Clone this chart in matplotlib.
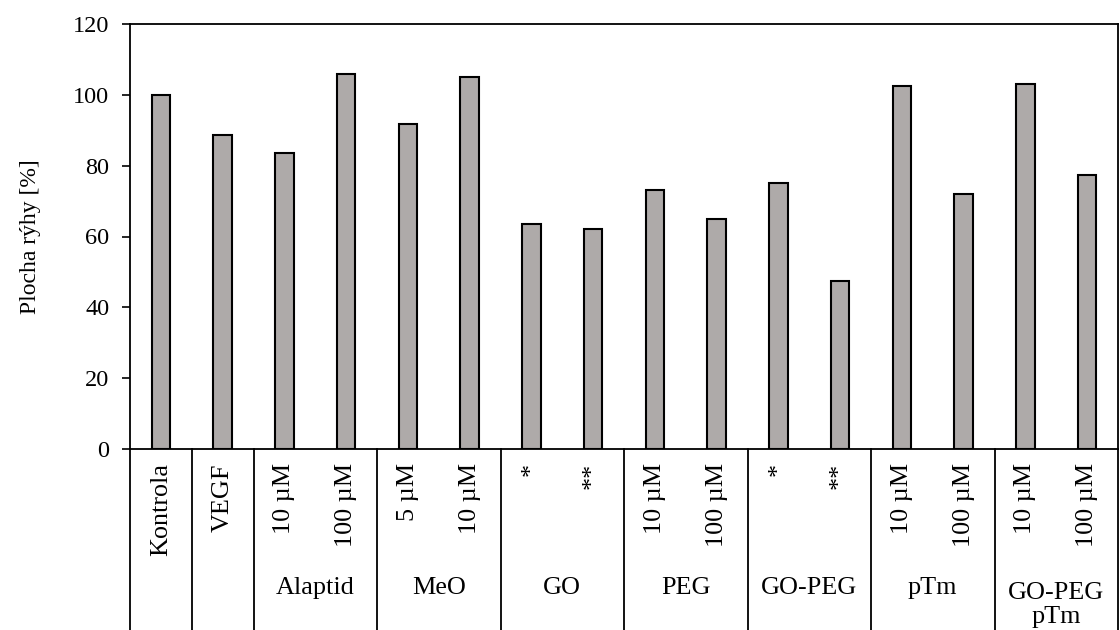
import matplotlib
matplotlib.use("Agg")
import matplotlib.pyplot as plt
import matplotlib.transforms as mtransforms

# ---- data ----
sub_labels = ["Kontrola", "VEGF", "10 µM", "100 µM", "5 µM", "10 µM", "*", "**",
              "10 µM", "100 µM", "*", "**", "10 µM", "100 µM", "10 µM", "100 µM"]
values = [100.0, 88.6, 83.5, 105.8, 91.8, 105.0, 63.5, 62.1,
          73.1, 64.9, 75.2, 47.3, 102.6, 72.1, 103.0, 77.5]
group_names = ["", "", "Alaptid", "MeO", "GO", "PEG", "GO-PEG", "pTm", "GO-PEG\npTm"]
group_sizes = [1, 1, 2, 2, 2, 2, 2, 2, 2]
y_ticks = [0, 20, 40, 60, 80, 100, 120]

plt.rcParams['font.family'] = ['Liberation Serif', 'DejaVu Serif']

fig = plt.figure(figsize=(11.2, 6.3), dpi=100)
ax = fig.add_axes([130/1120, 1-449/630, (1118-130)/1120, (449-24)/630])

n = len(values)
x = list(range(n))
ax.bar(x, values, width=0.3, color='#AEAAA9', edgecolor='black', linewidth=1.5, zorder=3)

ax.set_xlim(-0.5, n-0.5)
ax.set_ylim(0, 120)
ax.set_yticks(y_ticks)
ax.set_yticklabels([str(t) for t in y_ticks], fontsize=17.5)
ax.tick_params(axis='y', direction='out', length=6, width=1.2, pad=9)
ax.set_xticks([])
for s in ax.spines.values():
    s.set_linewidth(1.3)
ax.set_ylabel("Plocha rýhy [%]", fontsize=17)
ax.yaxis.set_label_coords(-0.101, 0.5)
ax.yaxis.label.set_va('center')

trans = mtransforms.blended_transform_factory(ax.transData, ax.transAxes)

# sub labels (rotated)
for i, lab in enumerate(sub_labels):
    ax.text(i, -0.033, lab, rotation=90, ha='center', va='top', fontsize=18.8,
            transform=trans, clip_on=False)

# group separators and group labels
pos = -0.5
bounds = [pos]
for gname, gs in zip(group_names, group_sizes):
    center = pos + gs/2
    if gname:
        if "\n" in gname:
            ax.text(center, -0.312, gname, ha='center', va='top', fontsize=18.8,
                    transform=trans, linespacing=1.15, clip_on=False)
        else:
            ax.text(center, -0.327, gname, ha='center', va='center', fontsize=18.8,
                    transform=trans, clip_on=False)
    pos += gs
    bounds.append(pos)

for b in bounds:
    ax.plot([b, b], [0, -0.5], color='black', linewidth=1.3, transform=trans,
            clip_on=False)

fig.savefig("out.png", dpi=100)
